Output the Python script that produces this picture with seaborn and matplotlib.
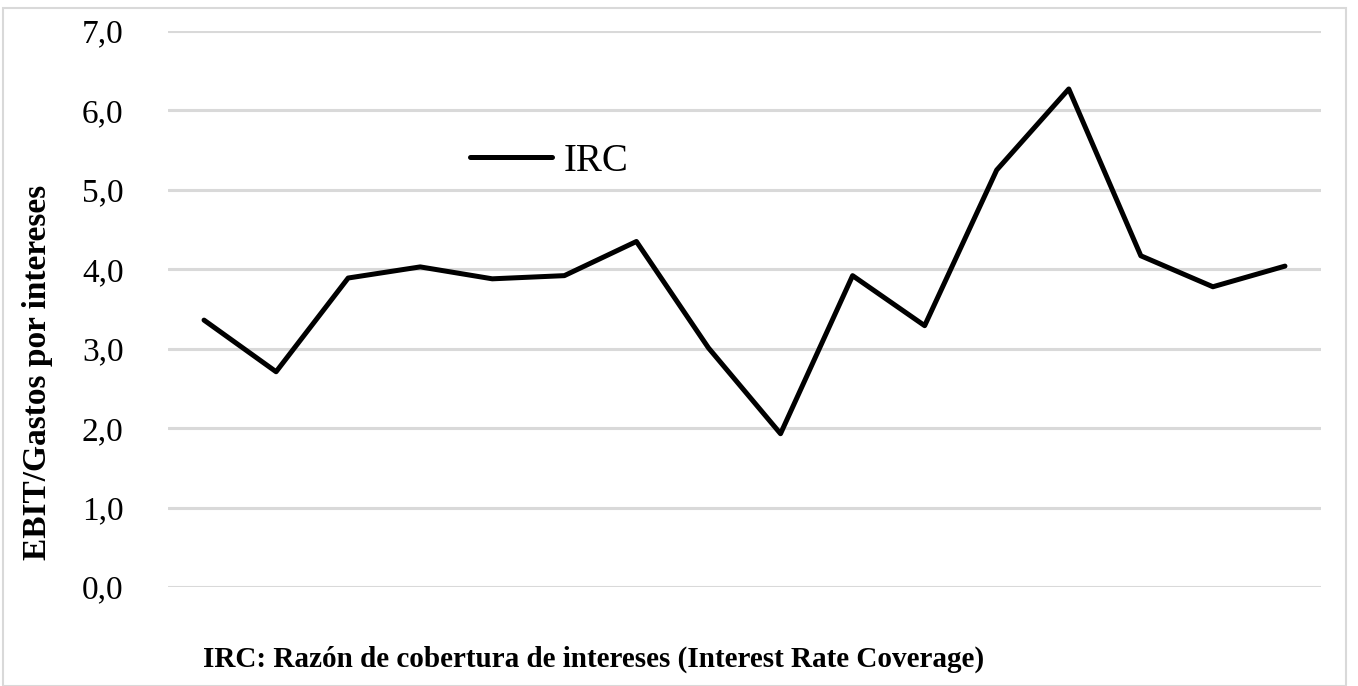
import matplotlib
matplotlib.use("Agg")
import matplotlib.pyplot as plt
import seaborn as sns
import numpy as np
import pandas as pd
from matplotlib.patches import Rectangle

# Data (16 periods, no x labels shown)
periodo = list(range(1, 17))
irc = [3.36, 2.71, 3.89, 4.03, 3.88, 3.92, 4.35, 3.01,
       1.93, 3.92, 3.29, 5.25, 6.27, 4.17, 3.78, 4.04]
y_ticks = [0, 1, 2, 3, 4, 5, 6, 7]

df = pd.DataFrame({"Periodo": periodo, "IRC": irc})

sns.set_theme(style="white")
plt.rcParams['font.family'] = ['Liberation Serif', 'DejaVu Serif']
plt.rcParams['text.color'] = 'black'
plt.rcParams['ytick.color'] = 'black'

fig = plt.figure(figsize=(13.58, 6.86), dpi=100)
ax = fig.add_axes([168 / 1358, 99 / 686, (1321 - 168) / 1358, (587 - 31) / 686])

sns.lineplot(data=df, x="Periodo", y="IRC", color="black", linewidth=3.6,
             label="IRC", ax=ax)

ax.set_xlim(0.5, 16.5)
ax.set_ylim(0, 7)
ax.set_yticks(y_ticks)
ax.set_yticklabels([f"{v:.1f}".replace(".", ",") for v in y_ticks], fontsize=24)
ax.set_xticks([])
ax.set_xlabel("")
ax.set_ylabel("")
ax.tick_params(axis='y', length=0, pad=32)
ax.grid(axis='y', color='#d9d9d9', linewidth=2.2)
ax.set_axisbelow(True)
for s in ax.spines.values():
    s.set_visible(False)

fig.text(38 / 1358, 1 - 372 / 686, "EBIT/Gastos por intereses", rotation=90,
         fontsize=24, fontweight='bold', ha='center', va='center')

leg = ax.legend(loc='upper left', bbox_to_anchor=(0.232, 0.862), frameon=False,
                fontsize=28, handlelength=2.1, handletextpad=0.3)

fig.text(203 / 1358, 1 - 659 / 686,
         "IRC: Razón de cobertura de intereses (Interest Rate Coverage)",
         fontsize=21, fontweight='bold', ha='left', va='center')

# light frame around the chart area
fig.patches.append(Rectangle((3 / 1358, 0), 1343 / 1358, 1 - 8 / 686,
                             transform=fig.transFigure, fill=False,
                             edgecolor='#d9d9d9', linewidth=1.5))

plt.savefig("out.png", dpi=100)
